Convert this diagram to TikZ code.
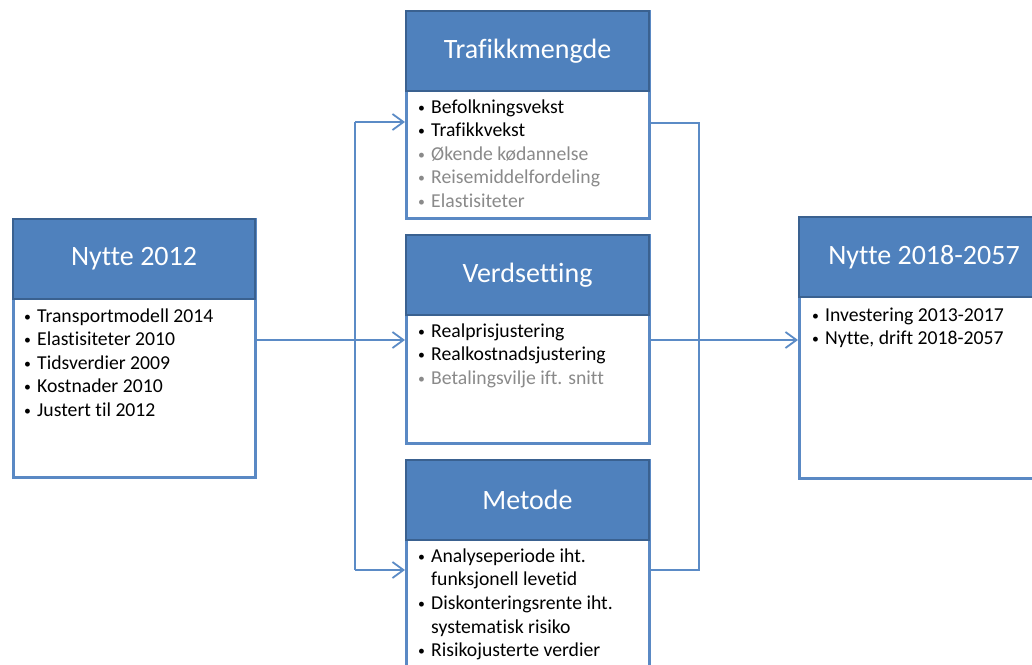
\documentclass[tikz,border=0pt]{standalone}
\usepackage{fontspec}
\setmainfont[Ligatures=NoCommon]{Carlito}
\usepackage{graphicx}
\usetikzlibrary{arrows.meta}

\definecolor{hdblue}{HTML}{4F81BD}
\definecolor{hdedge}{HTML}{3A6190}
\definecolor{boxedge}{HTML}{5A89C4}
\definecolor{linkblue}{HTML}{5B8BC6}
\definecolor{dimgrey}{HTML}{8A8A8A}

\tikzset{
  header/.style={draw=hdedge,fill=hdblue,line width=2pt,text=white,
    anchor=north west,minimum height=80pt,inner sep=0pt,
    font=\fontsize{28}{33}\selectfont},
  body/.style={draw=boxedge,fill=white,line width=2.5pt,anchor=north west,inner sep=0pt},
  item/.style={anchor=base west,inner sep=0pt,font=\fontsize{19.7}{23}\selectfont},
  link/.style={draw=linkblue,line width=1.8pt},
}
\newcommand{\bul}{\makebox[13pt][l]{\raisebox{1pt}{\scalebox{0.7}{•}}}}
\newcommand{\greyitem}[1]{{\color{dimgrey}\bul #1}}

\begin{document}
\begin{tikzpicture}[x=1pt,y=-1pt,>={Straight Barb[length=11pt,width=16pt]}]
    \useasboundingbox (0,0) rectangle (1032,664);

    % boxes
    \node[body,minimum width=242pt,minimum height=258pt] (n12) at (12,218) {};
    \node[header,minimum width=242pt] (n12h) at (12,218) {Nytte 2012};
    \node[body,minimum width=243pt,minimum height=207pt] (traf) at (405,10) {};
    \node[header,minimum width=243pt] (trafh) at (405,10) {Trafikkmengde};
    \node[body,minimum width=243pt,minimum height=208pt] (verd) at (405,234) {};
    \node[header,minimum width=243pt] (verdh) at (405,234) {Verdsetting};
    \node[body,minimum width=243pt,minimum height=230pt] (met) at (405,459) {};
    \node[header,minimum width=243pt] (meth) at (405,459) {Metode};
    \node[body,minimum width=250pt,minimum height=261pt] (n18) at (798,216) {};
    \node[header,minimum width=250pt] (n18h) at (798,216) {Nytte 2018-2057};

    % lists
    \foreach \t [count=\k] in {Transportmodell 2014,Elastisiteter 2010,Tidsverdier 2009,
        Kostnader 2010,Justert til 2012}
        \node[item] (a\k) at (24,{322+23.5*(\k-1)}) {\bul\t};
    \foreach \t [count=\k] in {\bul Befolkningsvekst,\bul Trafikkvekst,\greyitem{Økende kødannelse},
        \greyitem{Reisemiddelfordeling},\greyitem{Elastisiteter}}
        \node[item] (b\k) at (418,{113+23.6*(\k-1)}) {\t};
    \foreach \t [count=\k] in {\bul Realprisjustering,\bul Realkostnadsjustering,
        \greyitem{Betalingsvilje ift. snitt}}
        \node[item] (c\k) at (418,{337+23.8*(\k-1)}) {\t};
    \foreach \t [count=\k] in {\bul Analyseperiode iht.,\hspace*{13pt}funksjonell levetid,
        \bul Diskonteringsrente iht.,\hspace*{13pt}systematisk risiko,\bul Risikojusterte verdier}
        \node[item] (d\k) at (418,{562+23.7*(\k-1)}) {\t};
    \foreach \t [count=\k] in {Investering 2013-2017,{Nytte, drift 2018-2057}}
        \node[item] (e\k) at (812,{321+23.5*(\k-1)}) {\bul\t};

    % connectors
    \coordinate (fork) at (355,340);
    \coordinate (forkT) at (355,122);
    \coordinate (forkM) at (355,570);
    \coordinate (joinT) at (699,123);
    \coordinate (joinM) at (699,570);
    \path[link] (n12.east|-fork) -- (fork);
    \path[link] (forkT) -- (forkM);
    \path[link,->] (forkT) -- (forkT-|traf.west);
    \path[link,->] (fork) -- (fork-|verd.west);
    \path[link,->] (forkM) -- (forkM-|met.west);
    \path[link] (traf.east|-joinT) -- (joinT) -- (joinM) -- (met.east|-joinM);
    \path[link,->] (verd.east|-fork) -- (n18.west|-fork);
\end{tikzpicture}
\end{document}
